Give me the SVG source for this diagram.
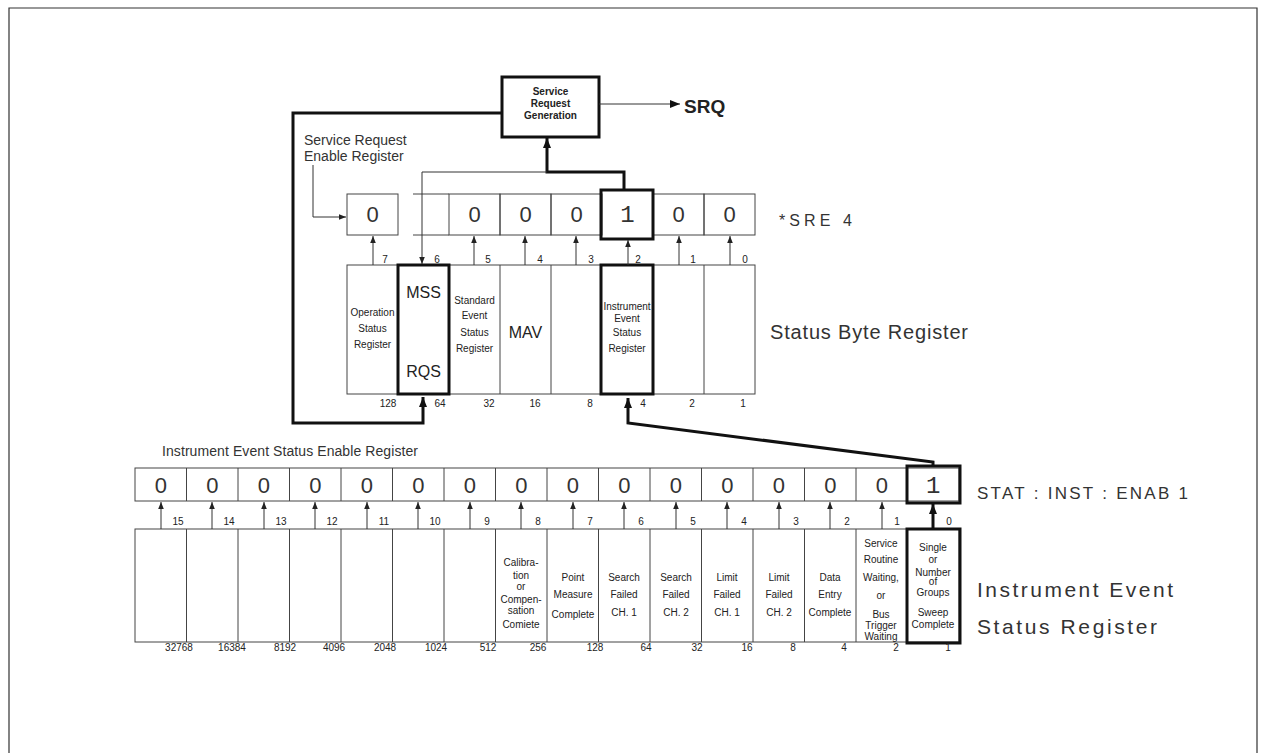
<svg xmlns="http://www.w3.org/2000/svg" width="1261" height="753" viewBox="0 0 1261 753">
<defs>
<style>
.cell{fill:none;stroke:#444;stroke-width:1}
.bold{fill:none;stroke:#111;stroke-width:3}
.thin{fill:none;stroke:#333;stroke-width:1}
.thick{fill:none;stroke:#111;stroke-width:3}
.t{font-family:"Liberation Sans",Arial,sans-serif;fill:#222}
.dig{font-family:"Liberation Sans",Arial,sans-serif;font-size:22px;fill:#333;text-anchor:middle}
.one{font-family:"Liberation Mono",monospace;font-size:24px;fill:#333;text-anchor:middle}
.sm{font-family:"Liberation Sans",Arial,sans-serif;font-size:10px;fill:#222;text-anchor:middle}
.num{font-family:"Liberation Sans",Arial,sans-serif;font-size:10px;fill:#222;text-anchor:middle}
.lbl{font-family:"Liberation Sans",Arial,sans-serif;fill:#333}
</style>
<marker id="ah" viewBox="0 0 10 10" refX="10" refY="5" markerWidth="7" markerHeight="7" markerUnits="userSpaceOnUse" orient="auto"><path d="M0,1 L10,5 L0,9 z" fill="#222"/></marker>
<marker id="ahb" viewBox="0 0 10 10" refX="10" refY="5" markerWidth="12" markerHeight="10" markerUnits="userSpaceOnUse" orient="auto"><path d="M0,1 L10,5 L0,9 z" fill="#111"/></marker>
</defs>
<rect width="1261" height="753" fill="#fff"/>
<path d="M9,753 V8 H1257 V753" fill="none" stroke="#333" stroke-width="1.2"/>

<g id="srg">
<rect x="502" y="77" width="97" height="60" class="bold"/>
<text class="t" x="550.5" y="95" font-size="10" font-weight="bold" text-anchor="middle">Service</text>
<text class="t" x="550.5" y="107" font-size="10" font-weight="bold" text-anchor="middle">Request</text>
<text class="t" x="550.5" y="119" font-size="10" font-weight="bold" text-anchor="middle">Generation</text>
</g>
<g id="srq"><text class="t" x="684" y="113" font-size="19" font-weight="bold">SRQ</text></g>

<g id="sre-label">
<text class="lbl" x="304" y="145" font-size="14">Service Request</text>
<text class="lbl" x="304" y="161" font-size="14">Enable Register</text>
</g>

<g id="sre">
<rect x="347" y="194" width="51" height="41" class="cell"/>
<path d="M413,194 H449 M413,235 H449" class="cell"/>
<rect x="449" y="194" width="51" height="41" class="cell"/>
<rect x="500" y="194" width="51" height="41" class="cell"/>
<rect x="551" y="194" width="51" height="41" class="cell"/>
<rect x="653" y="194" width="51" height="41" class="cell"/>
<rect x="704" y="194" width="51" height="41" class="cell"/>
<rect x="601" y="190" width="52" height="49" class="bold"/>
<text class="dig" x="372.5" y="222">0</text>
<text class="dig" x="474.5" y="222">0</text>
<text class="dig" x="525.5" y="222">0</text>
<text class="dig" x="576.5" y="222">0</text>
<text class="one" x="627.5" y="222">1</text>
<text class="dig" x="678.5" y="222">0</text>
<text class="dig" x="729.5" y="222">0</text>
</g>
<g id="sre-cmd"><text class="lbl" x="779" y="226" font-size="16" textLength="73">*SRE 4</text></g>

<g id="stb">
<rect x="347" y="265" width="408" height="129" class="cell"/>
<path d="M449,265 V394 M500,265 V394 M551,265 V394 M704,265 V394" class="cell"/>
<rect x="398" y="265" width="51" height="129" class="bold"/>
<rect x="601" y="265" width="52" height="129" class="bold"/>
<text class="sm" x="372.5" y="316">Operation</text>
<text class="sm" x="372.5" y="332">Status</text>
<text class="sm" x="372.5" y="348">Register</text>
<text class="t" x="423.5" y="298" font-size="16" text-anchor="middle">MSS</text>
<text class="t" x="423.5" y="377" font-size="16" text-anchor="middle">RQS</text>
<text class="sm" x="474.5" y="304">Standard</text>
<text class="sm" x="474.5" y="319">Event</text>
<text class="sm" x="474.5" y="336">Status</text>
<text class="sm" x="474.5" y="352">Register</text>
<text class="t" x="525.5" y="338" font-size="16" text-anchor="middle">MAV</text>
<text class="sm" x="627" y="310" font-size="7.5">Instrument</text>
<text class="sm" x="627" y="322">Event</text>
<text class="sm" x="627" y="336">Status</text>
<text class="sm" x="627" y="352">Register</text>
<text class="num" x="388" y="407">128</text>
<text class="num" x="440" y="407">64</text>
<text class="num" x="489" y="407">32</text>
<text class="num" x="535" y="407">16</text>
<text class="num" x="590" y="407">8</text>
<text class="num" x="643" y="407">4</text>
<text class="num" x="692" y="407">2</text>
<text class="num" x="743" y="407">1</text>
</g>
<g id="stb-label"><text class="lbl" x="770" y="339" font-size="20" textLength="198">Status Byte Register</text></g>

<g id="iese-label"><text class="lbl" x="162" y="456" font-size="14" textLength="256">Instrument Event Status Enable Register</text></g>

<g id="iese">
<rect x="135" y="468" width="824" height="33" class="cell"/>
<path d="M186.5,468V501M238,468V501M289.5,468V501M341,468V501M392.5,468V501M444,468V501M495.5,468V501M547,468V501M598.5,468V501M650,468V501M701.5,468V501M753,468V501M804.5,468V501M856,468V501" class="cell"/>
<rect x="907" y="466" width="53" height="37" class="bold"/>
<text class="dig" x="160.75" y="493">0</text>
<text class="dig" x="212.25" y="493">0</text>
<text class="dig" x="263.75" y="493">0</text>
<text class="dig" x="315.25" y="493">0</text>
<text class="dig" x="366.75" y="493">0</text>
<text class="dig" x="418.25" y="493">0</text>
<text class="dig" x="469.75" y="493">0</text>
<text class="dig" x="521.25" y="493">0</text>
<text class="dig" x="572.75" y="493">0</text>
<text class="dig" x="624.25" y="493">0</text>
<text class="dig" x="675.75" y="493">0</text>
<text class="dig" x="727.25" y="493">0</text>
<text class="dig" x="778.75" y="493">0</text>
<text class="dig" x="830.25" y="493">0</text>
<text class="dig" x="881.75" y="493">0</text>
<text class="one" x="933.25" y="493">1</text>
</g>
<g id="iese-cmd"><text class="lbl" x="977" y="499" font-size="17" textLength="211">STAT : INST : ENAB 1</text></g>

<g id="ies">
<rect x="135" y="529" width="824" height="113" class="cell"/>
<path d="M186.5,529V642M238,529V642M289.5,529V642M341,529V642M392.5,529V642M444,529V642M495.5,529V642M547,529V642M598.5,529V642M650,529V642M701.5,529V642M753,529V642M804.5,529V642M856,529V642" class="cell"/>
<rect x="907" y="529" width="53" height="114" class="bold"/>
<g class="sm">
<text x="521" y="566">Calibra-</text>
<text x="521" y="579">tion</text>
<text x="521" y="590">or</text>
<text x="521" y="603">Compen-</text>
<text x="521" y="614">sation</text>
<text x="521" y="628">Comiete</text>
<text x="573" y="581">Point</text>
<text x="573" y="598">Measure</text>
<text x="573" y="618">Complete</text>
<text x="624" y="581">Search</text>
<text x="624" y="598">Failed</text>
<text x="624" y="616">CH. 1</text>
<text x="676" y="581">Search</text>
<text x="676" y="598">Failed</text>
<text x="676" y="616">CH. 2</text>
<text x="727" y="581">Limit</text>
<text x="727" y="598">Failed</text>
<text x="727" y="616">CH. 1</text>
<text x="779" y="581">Limit</text>
<text x="779" y="598">Failed</text>
<text x="779" y="616">CH. 2</text>
<text x="830" y="581">Data</text>
<text x="830" y="598">Entry</text>
<text x="830" y="616">Complete</text>
<text x="881" y="547">Service</text>
<text x="881" y="563">Routine</text>
<text x="881" y="581">Waiting,</text>
<text x="881" y="599">or</text>
<text x="881" y="618">Bus</text>
<text x="881" y="629">Trigger</text>
<text x="881" y="640">Waiting</text>
<text x="933" y="551">Single</text>
<text x="933" y="563">or</text>
<text x="933" y="576">Number</text>
<text x="933" y="585">of</text>
<text x="933" y="596">Groups</text>
<text x="933" y="616">Sweep</text>
<text x="933" y="628">Complete</text>
</g>
<g class="num">
<text x="179" y="651">32768</text>
<text x="232" y="651">16384</text>
<text x="285" y="651">8192</text>
<text x="334" y="651">4096</text>
<text x="385" y="651">2048</text>
<text x="436" y="651">1024</text>
<text x="488" y="651">512</text>
<text x="538" y="651">256</text>
<text x="595" y="651">128</text>
<text x="646" y="651">64</text>
<text x="697" y="651">32</text>
<text x="747" y="651">16</text>
<text x="793" y="651">8</text>
<text x="844" y="651">4</text>
<text x="896" y="651">2</text>
<text x="948" y="651">1</text>
</g>
</g>
<g id="ies-label">
<text class="lbl" x="977" y="597" font-size="21" textLength="196">Instrument Event</text>
<text class="lbl" x="977" y="634" font-size="21" textLength="180">Status Register</text>
</g>

<g id="connectors">
<path d="M599,104 H680" class="thin" stroke-width="1.5" marker-end="url(#ahb)"/>
<path d="M502,113 H293 V423 H423 V397" class="thick" marker-end="url(#ahb)"/>
<path d="M624,190 V172 H547 V138" class="thick" marker-end="url(#ahb)"/>
<path d="M547,172 H422 V264" class="thin" marker-end="url(#ah)"/>
<path d="M313,165 V217 H346" class="thin" marker-end="url(#ah)"/>
<path d="M933,466 V462 L628,423 V398" class="thick" marker-end="url(#ahb)"/>
<g class="thin" marker-end="url(#ah)">
<path d="M373,265 V236"/><path d="M474,265 V236"/><path d="M525,265 V236"/><path d="M576,265 V236"/><path d="M628,265 V240"/><path d="M679,265 V236"/><path d="M730,265 V236"/>
<path d="M161,529 V502"/><path d="M212,529 V502"/><path d="M264,529 V502"/><path d="M315,529 V502"/><path d="M367,529 V502"/><path d="M418,529 V502"/><path d="M470,529 V502"/><path d="M521,529 V502"/><path d="M573,529 V502"/><path d="M624,529 V502"/><path d="M676,529 V502"/><path d="M727,529 V502"/><path d="M779,529 V502"/><path d="M830,529 V502"/><path d="M882,529 V502"/>
</g>
<path d="M933,529 V504" class="thick" stroke-width="2" marker-end="url(#ahb)"/>
</g>
<g id="bit-labels" class="num">
<text x="385" y="263">7</text><text x="437" y="263">6</text><text x="488" y="263">5</text><text x="540" y="263">4</text><text x="591" y="263">3</text><text x="638" y="263">2</text><text x="693" y="263">1</text><text x="745" y="263">0</text>
<text x="178" y="525">15</text><text x="229" y="525">14</text><text x="281" y="525">13</text><text x="332" y="525">12</text><text x="384" y="525">11</text><text x="435" y="525">10</text><text x="487" y="525">9</text><text x="538" y="525">8</text><text x="590" y="525">7</text><text x="641" y="525">6</text><text x="693" y="525">5</text><text x="744" y="525">4</text><text x="796" y="525">3</text><text x="847" y="525">2</text><text x="897" y="525">1</text><text x="949" y="525">0</text>
</g>
</svg>
